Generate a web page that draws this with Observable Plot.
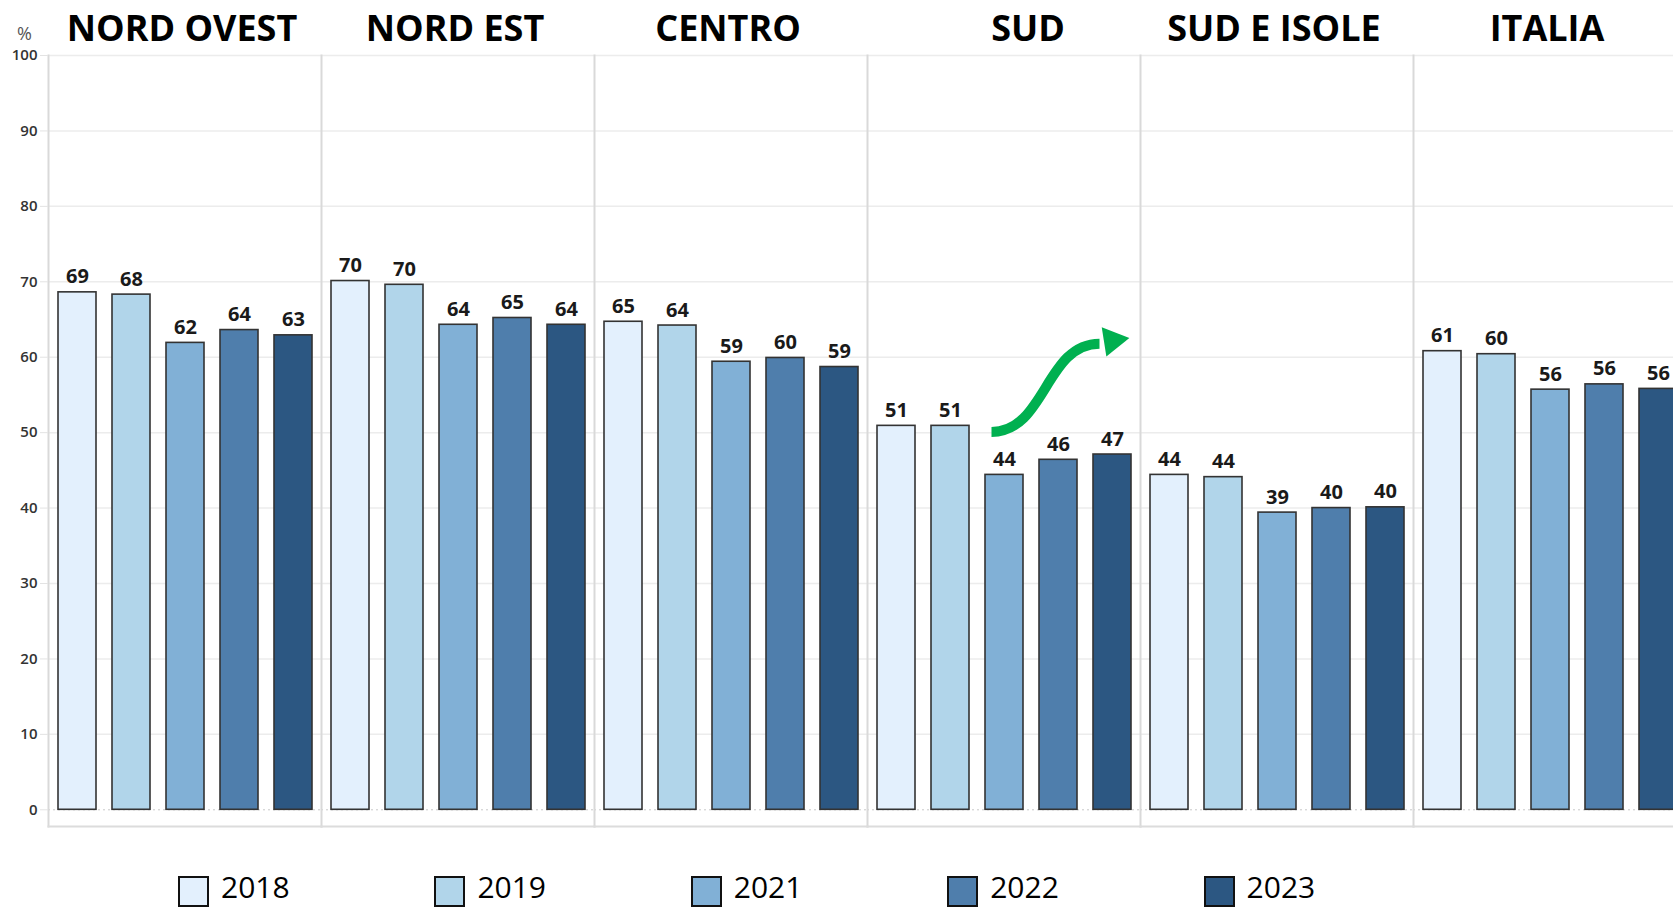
<!DOCTYPE html>
<html>
<head>
<meta charset="utf-8">
<script src="https://cdn.jsdelivr.net/npm/d3@7"></script>
<script src="https://cdn.jsdelivr.net/npm/@observablehq/plot@0.6"></script>
<style>
  html, body { margin: 0; padding: 0; background: #fff; overflow: hidden; }
  #wrap { width: 1673px; height: 909px; overflow: hidden; position: relative; }
  #chart { width: 1688px; height: 836px; }
  #chart svg { max-width: none !important; display: block; }
  #legend { position: relative; height: 73px; width: 1673px; font-family: "Open Sans", sans-serif; }
  .item { position: absolute; top: 36px; height: 30px; display: flex; align-items: flex-start; }
  .sw { width: 27px; height: 27px; border: 2px solid #111; box-sizing: content-box; position: relative; top: 4px; }
  .lab { font-size: 30px; color: #000; margin-left: 12px; line-height: 30px; }
</style>
</head>
<body>
<div id="wrap">
  <div id="chart"></div>
  <div id="legend"></div>
</div>
<script>
const regions = ["NORD OVEST", "NORD EST", "CENTRO", "SUD", "SUD E ISOLE", "ITALIA"];
const years = ["2018", "2019", "2021", "2022", "2023"];
const v2018 = [68.6, 70.1, 64.7, 50.9, 44.4, 60.8];
const v2019 = [68.3, 69.6, 64.2, 50.9, 44.1, 60.4];
const v2021 = [61.9, 64.3, 59.4, 44.4, 39.4, 55.7];
const v2022 = [63.6, 65.2, 59.9, 46.4, 40.0, 56.4];
const v2023 = [62.9, 64.3, 58.7, 47.1, 40.1, 55.8];
const yearColors = ["#e3f0fd", "#b1d5ea", "#81b0d6", "#4f7eac", "#2c5782"];
const yTicks = [0, 10, 20, 30, 40, 50, 60, 70, 80, 90, 100];
// decorative green arrow in the SUD panel (from 2021 column up to 2023 column)
const arrowNote = [{region: "SUD", from: "2021", to: "2023", y1: 50.1, y2: 61.8, yHead: 62.2}];

const series = [v2018, v2019, v2021, v2022, v2023];
const data = [];
regions.forEach((r, i) => years.forEach((y, j) => data.push({region: r, year: y, value: series[j][i]})));

const font = "'Open Sans', sans-serif";

const chart = Plot.plot({
  width: 1688,
  height: 836,
  marginLeft: 46,
  marginRight: 0,
  marginTop: 55,
  marginBottom: 10,
  style: {fontFamily: font, background: "#fff", maxWidth: "none"},
  fx: {domain: regions, padding: 0, axis: null},
  x: {domain: years, paddingInner: 0.3, paddingOuter: 0.15, axis: null},
  y: {domain: [0, 100], range: [809.3, 55], axis: null},
  color: {domain: years, range: yearColors},
  marks: [
    Plot.gridY(yTicks.filter(d => d > 0), {stroke: "#ececec", strokeOpacity: 1, strokeWidth: 1.5}),
    Plot.ruleY([0], {stroke: "#c8c8c8", strokeDasharray: "2,3"}),
    Plot.frame({anchor: "left", stroke: "#d9d9d9", strokeWidth: 2}),
    Plot.frame({anchor: "bottom", stroke: "#dcdcdc", strokeWidth: 2}),
    Plot.axisY({ticks: yTicks, tickSize: 8, tickPadding: 3, stroke: "#e3e3e3", fill: "#333",
      fontSize: 15, fontWeight: 600, label: null}),
    Plot.barY(data, {fx: "region", x: "year", y: "value", fill: "year", stroke: "#333", strokeWidth: 1.6}),
    Plot.text(data, {fx: "region", x: "year", y: "value", text: d => String(Math.round(d.value)),
      dy: -9, lineAnchor: "bottom", fontSize: 20, fontWeight: 700, fill: "#1a1a1a"}),
    Plot.text(regions.filter(r => r !== "SUD"), {fx: d => d, text: d => d, frameAnchor: "top", dy: -15, dx: -3,
      lineAnchor: "bottom", fontSize: 36, fontWeight: 700, fill: "#000"}),
    Plot.text(regions.filter(r => r === "SUD"), {fx: d => d, text: d => d, frameAnchor: "top", dy: -15, dx: 24,
      lineAnchor: "bottom", fontSize: 36, fontWeight: 700, fill: "#000"}),
    Plot.text(["%"], {fx: ["NORD OVEST"], text: d => d, frameAnchor: "top-left", dx: -24, dy: -21,
      textAnchor: "middle", lineAnchor: "middle", fontSize: 18, fill: "#555"}),
    Plot.link(arrowNote, {fx: "region", x1: "from", x2: "to", y1: "y1", y2: "y2", curve: "bump-x",
      dx: -13, stroke: "#00b050", strokeWidth: 10}),
    Plot.dot(arrowNote, {fx: "region", x: "to", y: "yHead", symbol: "triangle", r: 11, rotate: 81,
      fill: "#00b050"})
  ]
});
document.getElementById("chart").appendChild(chart);

const legend = document.getElementById("legend");
years.forEach((y, i) => {
  const item = document.createElement("div");
  item.className = "item";
  item.style.left = (178 + i * 256.4) + "px";
  const sw = document.createElement("div");
  sw.className = "sw";
  sw.style.background = yearColors[i];
  const lab = document.createElement("span");
  lab.className = "lab";
  lab.textContent = y;
  item.appendChild(sw);
  item.appendChild(lab);
  legend.appendChild(item);
});
</script>
</body>
</html>
